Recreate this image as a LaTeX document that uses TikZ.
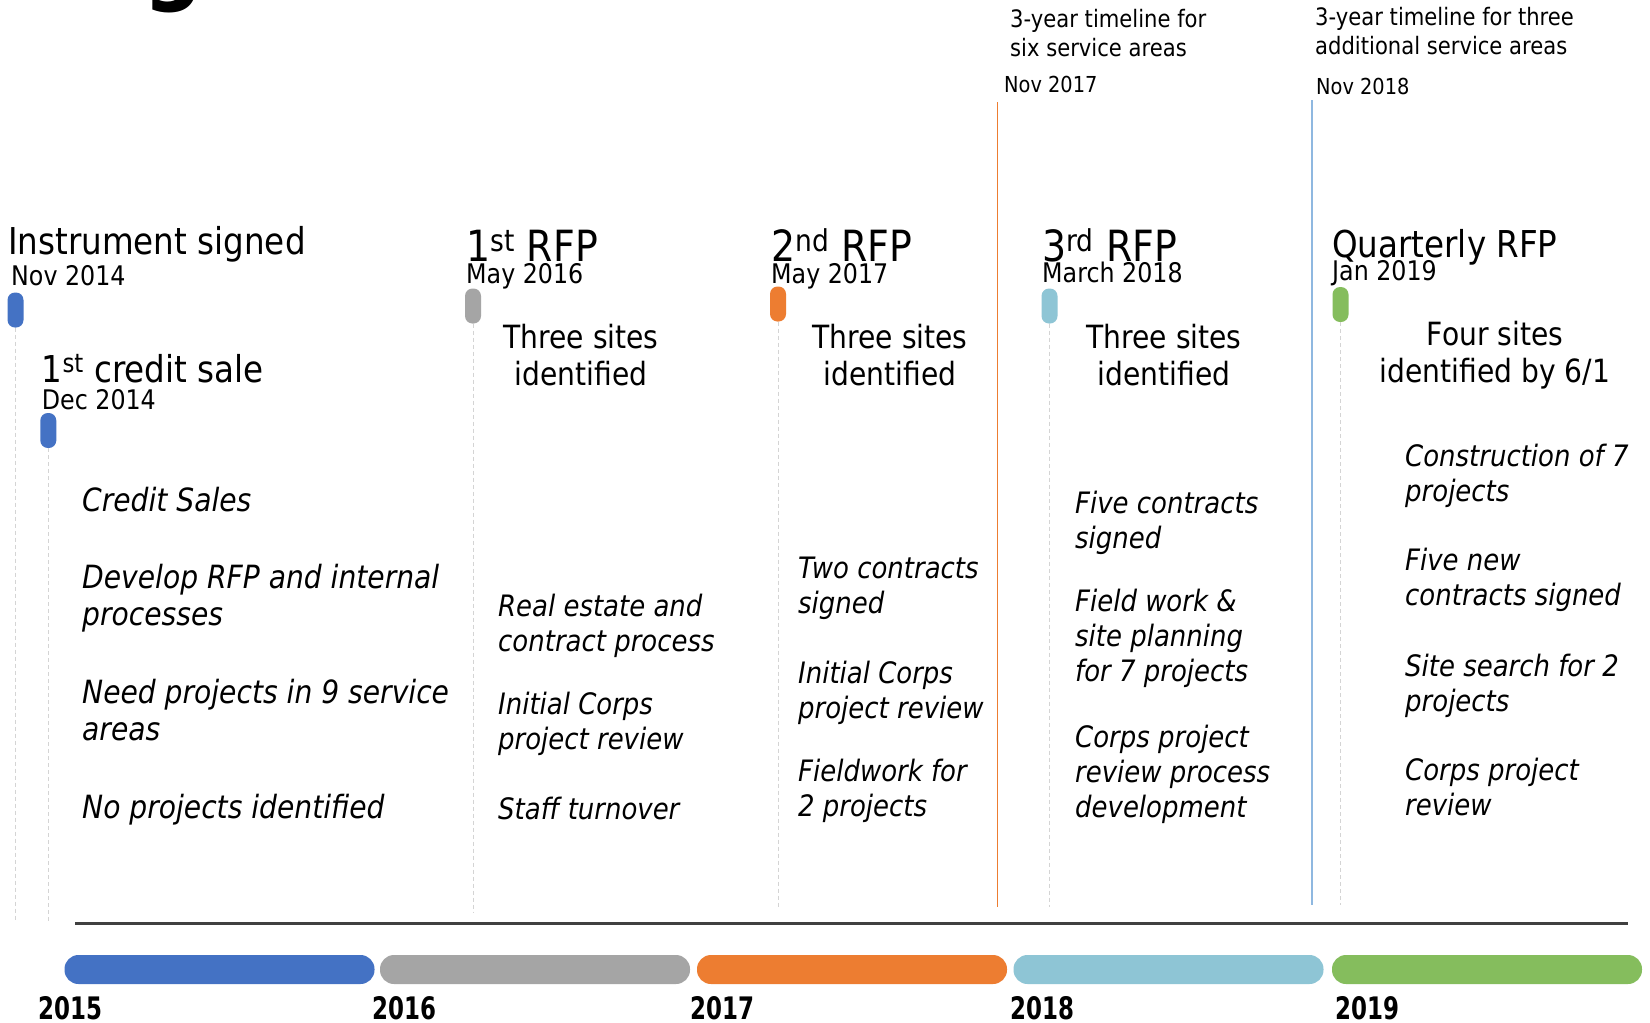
\documentclass[tikz,border=0pt]{standalone}
\usepackage{fontspec}
\setmainfont{DejaVu Sans}[FakeStretch=0.88]
\newfontfamily\yearfont{DejaVu Sans}[FakeStretch=0.74]
\definecolor{cblue}{HTML}{4472C4}
\definecolor{cgray}{HTML}{A5A5A5}
\definecolor{corange}{HTML}{ED7D31}
\definecolor{clblue}{HTML}{8EC5D5}
\definecolor{cgreen}{HTML}{85BD5D}
\definecolor{dashgray}{HTML}{D4D4D4}
\definecolor{axisgray}{HTML}{404040}
\definecolor{noteblue}{HTML}{8FB8E0}
\newcommand{\stack}[1]{\begin{tabular}[t]{@{}l@{}}#1\end{tabular}}
\newcommand{\cstack}[1]{\begin{tabular}[t]{@{}c@{}}#1\end{tabular}}
\begin{document}
\begin{tikzpicture}[x=1pt,y=-1pt,
  hdr/.style={font=\fontsize{37}{40}\selectfont, anchor=base west, inner sep=0pt},
  rfphdr/.style={font=\fontsize{43}{46}\selectfont, anchor=base west, inner sep=0pt},
  datelbl/.style={font=\fontsize{27}{30}\selectfont, anchor=base west, inner sep=0pt},
  sub/.style={font=\fontsize{32}{37}\selectfont, anchor=base, inner sep=0pt},
  item/.style={font=\fontsize{29.5}{35}\selectfont\itshape, anchor=base west, inner sep=0pt},
  itemwide/.style={font=\fontsize{32}{37}\selectfont\itshape, anchor=base west, inner sep=0pt},
  note/.style={font=\fontsize{24}{29}\selectfont, anchor=base west, inner sep=0pt},
  notedate/.style={font=\fontsize{22}{26}\selectfont, anchor=base west, inner sep=0pt},
  pin/.style={rounded corners=7.5pt, minimum width=16pt, minimum height=35pt, inner sep=0pt},
  guide/.style={draw=dashgray, line width=1pt, dash pattern=on 4pt off 3pt},
  bar/.style={rounded corners=14pt, minimum height=29pt, minimum width=310pt, inner sep=0pt},
  yearlbl/.style={font=\yearfont\bfseries\fontsize{31}{31}\selectfont, anchor=base west, inner sep=0pt},
]
\useasboundingbox[fill=white] (0,0) rectangle (1650,1023);

% cut-off title fragment
\begin{scope}
\clip (0,0) rectangle (1650,1023);
\node[font=\bfseries\fontsize{95}{95}\selectfont, anchor=base, inner sep=0pt] (title) at (173,-8) {g};
\end{scope}

% top notes
\node[note] (n1a) at (1010,27) {\stack{3-year timeline for\\six service areas}};
\node[notedate] (n1d) at (1004,92) {Nov 2017};
\node[note] (n2a) at (1315,25) {\stack{3-year timeline for three\\additional service areas}};
\node[notedate] (n2d) at (1316,94) {Nov 2018};
\coordinate (o1) at (997.6,102);
\coordinate (o2) at (997.6,907);
\coordinate (b1) at (1312,100);
\coordinate (b2) at (1312,905);
\draw[corange, line width=1.5pt] (o1) -- (o2);
\draw[noteblue, line width=1.5pt] (b1) -- (b2);

% event headers
\node[hdr] (h1) at (8,254) {Instrument signed};
\node[datelbl] (d1) at (11,285) {Nov 2014};
\node[hdr] (h2) at (41.7,382) {1\textsuperscript{st} credit sale};
\node[datelbl] (d2) at (41.7,409) {Dec 2014};
\node[rfphdr] (h3) at (466,261) {1\textsuperscript{st} RFP};
\node[datelbl] (d3) at (466,283) {May 2016};
\node[rfphdr] (h4) at (771,261) {2\textsuperscript{nd} RFP};
\node[datelbl] (d4) at (771,283) {May 2017};
\node[rfphdr] (h5) at (1042,261) {3\textsuperscript{rd} RFP};
\node[datelbl] (d5) at (1042,282) {March 2018};
\node[hdr] (h6) at (1332,257) {Quarterly RFP};
\node[datelbl] (d6) at (1332,280) {Jan 2019};

% markers
\node[pin, fill=cblue] (m1) at (15.5,310) {};
\node[pin, fill=cblue] (m2) at (48.3,430.5) {};
\node[pin, fill=cgray] (m3) at (473,306) {};
\node[pin, fill=corange] (m4) at (778,304) {};
\node[pin, fill=clblue] (m5) at (1049.5,306) {};
\node[pin, fill=cgreen] (m6) at (1340.5,304.5) {};

\coordinate (e1) at (17,922);
\coordinate (e2) at (48.3,922);
\coordinate (e3) at (473,912);
\coordinate (e4) at (778,907);
\coordinate (e5) at (1049.5,907);
\coordinate (e6) at (1340.5,905);
\draw[guide] (m1.south) -- (m1.south |- e1);
\draw[guide] (m2.south) -- (e2);
\draw[guide] (m3.south) -- (e3);
\draw[guide] (m4.south) -- (e4);
\draw[guide] (m5.south) -- (e5);
\draw[guide] (m6.south) -- (e6);

% sub headings
\node[sub] (s3) at (581,348) {\cstack{Three sites\\identified}};
\node[sub] (s4) at (890,348) {\cstack{Three sites\\identified}};
\node[sub] (s5) at (1164,348) {\cstack{Three sites\\identified}};
\node[sub] (s6) at (1495,345) {\cstack{Four sites\\identified by 6/1}};

% column 1
\node[itemwide] (c1a) at (82,511) {Credit Sales};
\node[itemwide] (c1b) at (82,588) {\stack{Develop RFP and internal\\processes}};
\node[itemwide] (c1c) at (82,703) {\stack{Need projects in 9 service\\areas}};
\node[itemwide] (c1d) at (82,818) {No projects identified};

% column 2
\node[item] (c2a) at (498,616) {\stack{Real estate and\\contract process}};
\node[item] (c2b) at (498,714) {\stack{Initial Corps\\project review}};
\node[item] (c2c) at (498,819) {Staff turnover};

% column 3
\node[item] (c3a) at (798,578) {\stack{Two contracts\\signed}};
\node[item] (c3b) at (798,683) {\stack{Initial Corps\\project review}};
\node[item] (c3c) at (798,781) {\stack{Fieldwork for\\2 projects}};

% column 4
\node[item] (c4a) at (1075,513) {\stack{Five contracts\\signed}};
\node[item] (c4b) at (1075,611) {\stack{Field work \&\\site planning\\for 7 projects}};
\node[item] (c4c) at (1075,747) {\stack{Corps project\\review process\\development}};

% column 5
\node[item] (c5a) at (1405,466) {\stack{Construction of 7\\projects}};
\node[item] (c5b) at (1405,570) {\stack{Five new\\contracts signed}};
\node[item] (c5c) at (1405,676) {\stack{Site search for 2\\projects}};
\node[item] (c5d) at (1405,780) {\stack{Corps project\\review}};

% axis
\coordinate (a1) at (75,923);
\coordinate (a2) at (1628,923);
\draw[axisgray, line width=3pt] (a1) -- (a2);

% year bars
\node[bar, fill=cblue] (y1) at (219.5,969.5) {};
\node[bar, fill=cgray] (y2) at (535,969.5) {};
\node[bar, fill=corange] (y3) at (852,969.5) {};
\node[bar, fill=clblue] (y4) at (1168.5,969.5) {};
\node[bar, fill=cgreen] (y5) at (1487,969.5) {};

\node[yearlbl] (t1) at (38,1019) {2015};
\node[yearlbl] (t2) at (372,1019) {2016};
\node[yearlbl] (t3) at (690,1019) {2017};
\node[yearlbl] (t4) at (1010,1019) {2018};
\node[yearlbl] (t5) at (1335,1019) {2019};
\end{tikzpicture}
\end{document}
